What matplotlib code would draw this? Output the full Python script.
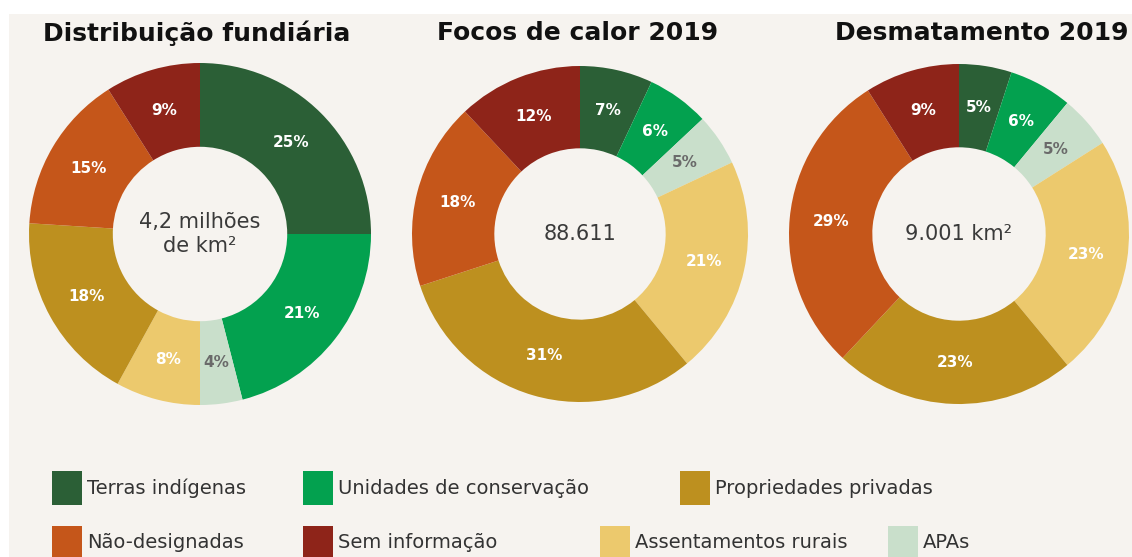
import matplotlib
matplotlib.use("Agg")
import numpy as np
from matplotlib import pyplot as plt
from matplotlib.patches import Rectangle

# categories in drawing order (clockwise from 12 o'clock)
categories = ["Terras indígenas", "Unidades de conservação", "APAs",
              "Assentamentos rurais", "Propriedades privadas",
              "Não-designadas", "Sem informação"]
colors = ["#2b5f36", "#03a14f", "#c9dfcb", "#ecc96d", "#bd901f", "#c5561a", "#8e2419"]

titles = ["Distribuição fundiária", "Focos de calor 2019", "Desmatamento 2019"]
centers = ["4,2 milhões\nde km²", "88.611", "9.001 km²"]

fundiaria = [25, 21, 4, 8, 18, 15, 9]
focos = [7, 6, 5, 21, 31, 18, 12]
desmatamento = [5, 6, 5, 23, 23, 29, 9]

W, H = 1132, 557
fig = plt.figure(figsize=(W / 100, H / 100), dpi=100, facecolor="white")
fig.patches.append(Rectangle((9 / W, 0), 1, 1 - 14 / H, transform=fig.transFigure,
                             facecolor="#f6f3ef", edgecolor="none", zorder=-10))

# pixel geometry: (center x, center y, radius)
geom = [(200, 234, 171), (580, 234, 168), (959, 234, 170)]
title_x = [197, 578, 982]

for vals, title, ctext, (cx, cy, r), tx in zip(
        [fundiaria, focos, desmatamento], titles, centers, geom, title_x):
    ax = fig.add_axes([(cx - r) / W, (H - cy - r) / H, 2 * r / W, 2 * r / H])
    wedges, texts = ax.pie(vals, colors=colors, startangle=90, counterclock=False,
                           radius=1, wedgeprops=dict(width=0.49, edgecolor="none"))
    ax.set_xlim(-1, 1)
    ax.set_ylim(-1, 1)
    ax.axis("off")
    for w, v, cat in zip(wedges, vals, categories):
        ang = np.deg2rad((w.theta1 + w.theta2) / 2)
        col = "#6a6a6a" if cat == "APAs" else "white"
        ax.text(0.755 * np.cos(ang), 0.755 * np.sin(ang), f"{v}%", ha="center",
                va="center", color=col, fontsize=11, fontweight="bold",
                family="DejaVu Sans")
    ax.text(0, 0, ctext, ha="center", va="center", fontsize=15, color="#3a3a3a",
            family="DejaVu Sans", linespacing=1.2)
    fig.text(tx / W, 1 - 33 / H, title, ha="center", va="center", fontsize=18,
             fontweight="bold", family="DejaVu Sans", color="#111111")

# legend (manual, irregular layout like the original)
legend_order = ["Terras indígenas", "Unidades de conservação", "Propriedades privadas",
                "Não-designadas", "Sem informação", "Assentamentos rurais", "APAs"]
legend_xy = [(52, 488), (303, 488), (680, 488), (52, 543), (303, 543), (600, 543), (888, 543)]
for lab, (lx, ly) in zip(legend_order, legend_xy):
    c = colors[categories.index(lab)]
    fig.patches.append(Rectangle((lx / W, 1 - (ly + 17) / H), 30 / W, 34 / H,
                                 transform=fig.transFigure, facecolor=c,
                                 edgecolor="none"))
    fig.text((lx + 35) / W, 1 - ly / H, lab, ha="left", va="center", fontsize=14,
             color="#333333", family="DejaVu Sans")

fig.savefig("out.png", dpi=100, facecolor="white")
